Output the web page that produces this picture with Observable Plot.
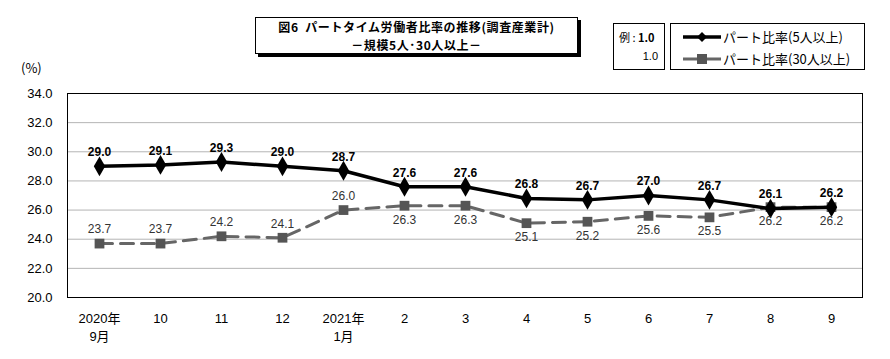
<!DOCTYPE html>
<html><head><meta charset="utf-8">
<script src="https://cdn.jsdelivr.net/npm/d3@7"></script>
<script src="https://cdn.jsdelivr.net/npm/@observablehq/plot@0.6"></script>
<style>
body{margin:0;background:#fff;}
#wrap{position:relative;width:890px;height:359px;font-family:"Liberation Sans","Noto Sans CJK JP",sans-serif;}
#wrap svg.plot{position:absolute;left:0;top:0;}
.box{position:absolute;border:1px solid #000;background:#fff;box-sizing:border-box;}
#title{left:255px;top:17px;width:323px;height:37px;box-shadow:3px 3px 0 #000;font-family:"Noto Sans CJK JP",sans-serif;font-weight:bold;font-size:12px;text-align:center;letter-spacing:0.6px;white-space:nowrap;}
#title div{position:absolute;left:0;right:0;line-height:16px;}
#ex{left:613px;top:23px;width:52px;height:47px;font-size:11px;}
#leg{left:670px;top:23px;width:195px;height:47px;font-family:"Noto Sans CJK JP",sans-serif;font-size:13px;}
#pct{position:absolute;left:21px;top:58px;font-size:13px;font-family:"Noto Sans CJK JP",sans-serif;}
</style></head>
<body><div id="wrap">
<div id="pct">(%)</div>
<div class="box" id="title"><div style="top:1px">図6&nbsp;&nbsp;パートタイム労働者比率の推移(調査産業計)</div><div style="top:19px">－規模5人･30人以上－</div></div>
<div class="box" id="ex"><div style="position:absolute;left:5px;top:5px;font-family:'Noto Sans CJK JP';">例 : <b>1.0</b></div><div style="position:absolute;right:6px;top:26px;">1.0</div></div>
<div class="box" id="leg">
<svg width="195" height="47" style="position:absolute;left:0;top:0">
<line x1="12" y1="13" x2="50" y2="13" stroke="#000" stroke-width="3.5"/>
<path d="M31 8 L36 13 L31 18 L26 13 Z" fill="#000"/>
<line x1="12" y1="35" x2="50" y2="35" stroke="#666" stroke-width="3"/>
<rect x="26" y="30" width="10" height="10" fill="#555"/>
<text x="52" y="18" font-size="13" font-family="Noto Sans CJK JP">パート比率(5人以上)</text>
<text x="52" y="40" font-size="13" font-family="Noto Sans CJK JP">パート比率(30人以上)</text>
</svg></div>
</div>
<script>
const months = ["2020年\n9月","10","11","12","2021年\n1月","2","3","4","5","6","7","8","9"];
const part5 = [29.0,29.1,29.3,29.0,28.7,27.6,27.6,26.8,26.7,27.0,26.7,26.1,26.2];
const part30 = [23.7,23.7,24.2,24.1,26.0,26.3,26.3,25.1,25.2,25.6,25.5,26.2,26.2];
const yTicks = [20,22,24,26,28,30,32,34];

const d5 = months.map((m,i)=>({m, v:part5[i]}));
const d30 = months.map((m,i)=>({m, v:part30[i], above: i<5}));

const chart = Plot.plot({
  width: 890, height: 359,
  marginLeft: 67, marginRight: 28, marginTop: 93, marginBottom: 62,
  style: {fontFamily: "Liberation Sans, Noto Sans CJK JP, sans-serif", fontSize: "12px", color:"#000", background:"transparent"},
  x: {type: "point", domain: months, padding: 0.5, label: null},
  y: {domain: [20,34], label: null},
  marks: [
    Plot.ruleY(yTicks.slice(1,-1), {stroke: "#b4b4b4", strokeWidth: 1, strokeOpacity: 1}),
    Plot.frame({stroke: "#000", strokeWidth: 1}),
    Plot.axisY(yTicks, {tickSize: 0, tickPadding: 15, tickFormat: d => d.toFixed(1), fontSize: 13, label: null}),
    Plot.axisX({tickSize: 0, tickPadding: 13, fontSize: 13, lineHeight: 1.35, label: null, textAnchor: "middle"}),
    Plot.line(d30, {x: "m", y: "v", stroke: "#666", strokeWidth: 3, strokeDasharray: "13,8"}),
    Plot.dot(d30, {x: "m", y: "v", symbol: "square", r: 5.5, fill: "#555", stroke: "none"}),
    Plot.line(d5, {x: "m", y: "v", stroke: "#000", strokeWidth: 3.5}),
    Plot.dot(d5, {x: "m", y: "v", symbol: "diamond", r: 6, fill: "#000", stroke: "none"}),
    Plot.text(d5, {x: "m", y: "v", text: d => d.v.toFixed(1), dy: -14, fontWeight: "bold", fontSize: 12, fill: "#000"}),
    Plot.text(d30.filter(d=>d.above), {x: "m", y: "v", text: d => d.v.toFixed(1), dy: -14, fontSize: 12, fill: "#333"}),
    Plot.text(d30.filter(d=>!d.above), {x: "m", y: "v", text: d => d.v.toFixed(1), dy: 14, fontSize: 12, fill: "#333"})
  ]
});
chart.classList.add("plot");
document.getElementById("wrap").prepend(chart);
</script>
</body></html>
